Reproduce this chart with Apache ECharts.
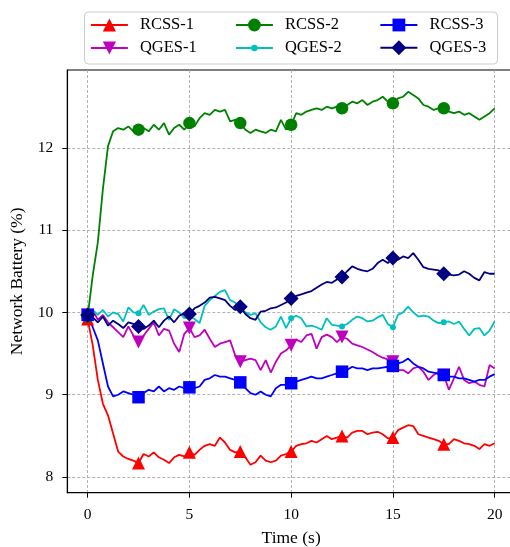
<!DOCTYPE html>
<html>
<head>
<meta charset="utf-8">
<script src="https://cdn.jsdelivr.net/npm/echarts@6/dist/echarts.min.js"></script>
<style>
  html, body { margin: 0; padding: 0; background: #fff; }
  #chart { width: 510px; height: 547px; }
</style>
</head>
<body>
<div id="chart"></div>
<script>
// Sampling grid: 0 … 20 s every 0.25 s
const time = [];
for (let i = 0; i <= 80; i++) time.push(i * 0.25);

const xTicks = [0, 5, 10, 15, 20];
const yTicks = [8, 9, 10, 11, 12];

// Network battery level (%) per scheme
const rcss1 = [
  9.92, 9.60, 9.18, 8.89, 8.75, 8.53, 8.31, 8.25, 8.22, 8.20,
  8.17, 8.28, 8.25, 8.30, 8.24, 8.21, 8.17, 8.24, 8.27, 8.25,
  8.30, 8.27, 8.33, 8.38, 8.40, 8.38, 8.48, 8.42, 8.33, 8.30,
  8.31, 8.24, 8.15, 8.18, 8.26, 8.20, 8.18, 8.20, 8.26, 8.28,
  8.31, 8.38, 8.40, 8.41, 8.44, 8.42, 8.46, 8.50, 8.46, 8.48,
  8.50, 8.48, 8.54, 8.56, 8.56, 8.52, 8.54, 8.55, 8.52, 8.47,
  8.48, 8.57, 8.60, 8.63, 8.62, 8.52, 8.50, 8.48, 8.46, 8.44,
  8.40, 8.40, 8.46, 8.44, 8.41, 8.40, 8.38, 8.34, 8.40, 8.38,
  8.41
];
const qges1 = [
  9.97, 10.03, 9.91, 9.97, 9.88, 9.82, 9.76, 9.70, 9.83, 9.72,
  9.64, 9.72, 9.80, 9.88, 9.72, 9.80, 9.78, 9.62, 9.52, 9.74,
  9.81, 9.70, 9.72, 9.79, 9.68, 9.58, 9.62, 9.64, 9.66, 9.48,
  9.40, 9.42, 9.44, 9.42, 9.30, 9.42, 9.27, 9.40, 9.50, 9.54,
  9.60, 9.67, 9.64, 9.72, 9.74, 9.56, 9.70, 9.73, 9.70, 9.64,
  9.70, 9.68, 9.62, 9.60, 9.58, 9.55, 9.52, 9.48, 9.45, 9.43,
  9.40, 9.30, 9.30, 9.26, 9.32, 9.34, 9.28, 9.18, 9.24, 9.28,
  9.24, 9.06, 9.20, 9.34, 9.18, 9.14, 9.16, 9.12, 9.10, 9.36,
  9.32
];
const rcss2 = [
  9.95, 10.45, 10.85, 11.50, 12.02, 12.20, 12.24, 12.22, 12.26, 12.20,
  12.22, 12.24, 12.20, 12.28, 12.22, 12.30, 12.16, 12.24, 12.28, 12.22,
  12.30, 12.26, 12.36, 12.42, 12.40, 12.46, 12.44, 12.46, 12.32, 12.34,
  12.30, 12.22, 12.18, 12.22, 12.20, 12.18, 12.22, 12.20, 12.34, 12.22,
  12.28, 12.42, 12.40, 12.44, 12.46, 12.48, 12.46, 12.50, 12.48, 12.50,
  12.48, 12.52, 12.56, 12.54, 12.58, 12.52, 12.56, 12.58, 12.62, 12.56,
  12.54, 12.60, 12.62, 12.68, 12.64, 12.60, 12.52, 12.50, 12.46, 12.48,
  12.48, 12.44, 12.42, 12.44, 12.40, 12.42, 12.38, 12.34, 12.38, 12.42,
  12.48
];
const qges2 = [
  9.98, 10.03, 9.97, 10.03, 9.95, 10.00, 9.98, 9.89, 10.06, 10.00,
  9.99, 10.09, 9.97, 10.01, 10.04, 10.05, 9.91, 10.04, 10.00, 9.93,
  9.95, 9.92, 9.87, 10.08, 10.15, 10.20, 10.25, 10.27, 10.15, 10.12,
  10.06, 10.00, 9.97, 9.99, 9.88, 9.82, 9.79, 9.83, 9.95, 9.81,
  9.93, 9.96, 9.93, 9.83, 9.84, 9.82, 9.79, 9.93, 9.85, 9.84,
  9.83, 9.86, 9.91, 9.95, 9.93, 9.89, 9.90, 9.94, 9.97, 9.86,
  9.82, 9.97, 10.00, 10.07, 10.00, 9.95, 9.96, 9.95, 9.90, 9.87,
  9.88, 9.89, 9.86, 9.89, 9.80, 9.72, 9.80, 9.81, 9.72, 9.78,
  9.89
];
const rcss3 = [
  9.97, 9.82, 9.66, 9.38, 9.10, 8.98, 9.00, 9.04, 9.02, 9.00,
  8.97, 9.02, 9.06, 9.04, 9.10, 9.04, 9.08, 9.06, 9.10, 9.08,
  9.09, 9.08, 9.10, 9.18, 9.20, 9.24, 9.22, 9.22, 9.20, 9.18,
  9.15, 9.08, 9.02, 9.00, 9.04, 9.00, 8.98, 9.08, 9.12, 9.12,
  9.14, 9.16, 9.18, 9.20, 9.22, 9.20, 9.20, 9.22, 9.24, 9.26,
  9.28, 9.30, 9.34, 9.32, 9.32, 9.30, 9.32, 9.32, 9.33, 9.34,
  9.35, 9.38, 9.40, 9.44, 9.38, 9.34, 9.32, 9.28, 9.27, 9.25,
  9.24, 9.22, 9.22, 9.20, 9.20, 9.18, 9.16, 9.18, 9.18, 9.22,
  9.25
];
const qges3 = [
  9.97, 9.94, 9.88, 9.95, 9.84, 9.90, 9.86, 9.81, 9.88, 9.86,
  9.83, 9.80, 9.84, 9.90, 9.82, 9.90, 9.95, 9.88, 9.96, 9.99,
  9.98, 10.05, 10.08, 10.12, 10.18, 10.19, 10.17, 10.15, 10.08, 10.03,
  10.07, 9.98, 9.93, 9.91, 10.01, 10.02, 10.05, 10.06, 10.09, 10.12,
  10.17, 10.20, 10.22, 10.24, 10.26, 10.30, 10.34, 10.37, 10.36, 10.40,
  10.43, 10.50, 10.56, 10.53, 10.51, 10.50, 10.53, 10.60, 10.64, 10.60,
  10.66, 10.64, 10.68, 10.66, 10.72, 10.64, 10.55, 10.53, 10.52, 10.51,
  10.47, 10.46, 10.45, 10.46, 10.50, 10.47, 10.42, 10.39, 10.49, 10.47,
  10.47
];

const FONT = 'Liberation Serif';

// Markers appear every 2.5 s (0 … 17.5 s)
function markerSize(size) {
  return function (value) {
    const t = value[0];
    const k = t / 2.5;
    return (Math.abs(k - Math.round(k)) < 1e-6 && t < 19.9) ? size : 0;
  };
}

const styles = [
  { name: 'RCSS-1', data: rcss1, color: '#ff0000', symbol: 'triangle', size: 13, legendH: 16.5 },
  { name: 'QGES-1', data: qges1, color: '#bf00bf', symbol: 'path://M0,0 L10,0 L5,10 Z', size: 13, legendH: 16.5 },
  { name: 'RCSS-2', data: rcss2, color: '#008000', symbol: 'circle', size: 12.5, legendH: 16 },
  { name: 'QGES-2', data: qges2, color: '#00bfbf', symbol: 'circle', size: 6, legendH: 8 },
  { name: 'RCSS-3', data: rcss3, color: '#0000ff', symbol: 'rect', size: 12.5, legendH: 16 },
  { name: 'QGES-3', data: qges3, color: '#000080', symbol: 'diamond', size: 15, legendH: 18.5 }
];

const series = styles.map(s => ({
  name: s.name,
  type: 'line',
  data: time.map((t, i) => [t, s.data[i]]),
  showSymbol: true,
  showAllSymbol: true,
  symbol: s.symbol,
  symbolSize: markerSize(s.size),
  symbolKeepAspect: true,
  lineStyle: { color: s.color, width: 1.8 },
  itemStyle: { color: s.color, borderWidth: 0 },
  emphasis: { disabled: true },
  animation: false
}));

// Legend laid out in 3 columns x 2 rows
const colX = [90, 235, 379.5];
const rowY = [25, 48];
const legendPos = [
  [0, 0], [0, 1], [1, 0], [1, 1], [2, 0], [2, 1]
];
const legends = styles.map((s, i) => {
  const h = Math.max(s.legendH, 18);
  return {
    data: [s.name],
    left: colX[legendPos[i][0]],
    top: rowY[legendPos[i][1]] - h / 2,
    itemWidth: 37,
    itemHeight: s.legendH,
    padding: 0,
    orient: 'horizontal',
    selectedMode: false,
    textStyle: {
      fontFamily: FONT, fontSize: 16.5, color: '#000',
      padding: [0, 0, 0, 7], lineHeight: 18, height: 18
    },
    lineStyle: { width: 1.8 },
    itemStyle: { borderWidth: 0 },
    z: 101
  };
});

const chart = echarts.init(document.getElementById('chart'), null, { renderer: 'canvas' });
chart.setOption({
  animation: false,
  backgroundColor: '#ffffff',
  grid: {
    left: 67.3, top: 70, right: -5, bottom: 54.3,
    outerBoundsMode: 'none',
    containLabel: false,
    show: true, borderColor: '#000', borderWidth: 1.1, backgroundColor: 'transparent'
  },
  graphic: [{
    type: 'rect',
    left: 84, top: 11.5,
    shape: { width: 413, height: 52, r: 4 },
    style: { fill: 'rgba(255,255,255,0.8)', stroke: '#cccccc', lineWidth: 1 },
    z: 100
  }],
  legend: legends,
  xAxis: {
    type: 'value', min: -1, max: 21,
    name: 'Time (s)', nameLocation: 'middle', nameGap: 37,
    nameTextStyle: { fontFamily: FONT, fontSize: 17.5, color: '#000' },
    axisLine: { show: true, onZero: false, lineStyle: { color: '#000', width: 1.1 } },
    axisTick: { show: true, length: 5, customValues: xTicks, lineStyle: { color: '#000', width: 1 } },
    axisLabel: { customValues: xTicks, margin: 14, fontFamily: FONT, fontSize: 15.5, color: '#000' },
    splitLine: { show: true, lineStyle: { color: '#a8a8a8', width: 0.9, type: [3, 2] } }
  },
  yAxis: {
    type: 'value', min: 7.81, max: 12.945,
    name: 'Network Battery (%)', nameLocation: 'middle', nameGap: 39, nameRotate: 90,
    nameTextStyle: { fontFamily: FONT, fontSize: 17.5, color: '#000' },
    axisLine: { show: true, onZero: false, lineStyle: { color: '#000', width: 1.1 } },
    axisTick: { show: true, length: 5, customValues: yTicks, lineStyle: { color: '#000', width: 1 } },
    axisLabel: { customValues: yTicks, margin: 14, fontFamily: FONT, fontSize: 15.5, color: '#000' },
    splitLine: { show: true, lineStyle: { color: '#a8a8a8', width: 0.9, type: [3, 2] } }
  },
  series: series
});
</script>
</body>
</html>
